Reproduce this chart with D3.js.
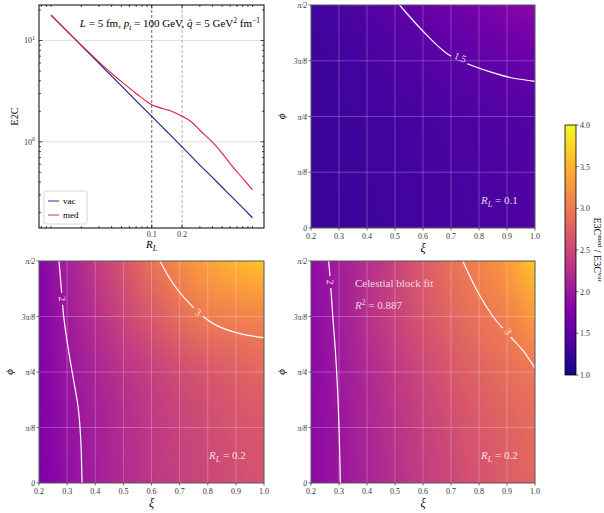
<!DOCTYPE html>
<html>
<head>
<meta charset="utf-8">
<script src="https://cdn.jsdelivr.net/npm/d3@7"></script>
<style>
  body { margin: 0; background: #fff; }
  svg { font-family: "Liberation Serif", "DejaVu Serif", serif; }
</style>
</head>
<body>
<svg id="fig" width="604" height="513"></svg>
<script>
// ---------- data: E2C vs R_L ----------
const rl      = [0.01, 0.015, 0.02, 0.03, 0.04, 0.05, 0.07, 0.1, 0.13, 0.15, 0.2, 0.25, 0.3, 0.4, 0.5, 0.6, 0.8, 1.0];
const e2cVac  = [17.8, 11.9, 8.9, 5.93, 4.45, 3.56, 2.54, 1.78, 1.37, 1.19, 0.89, 0.71, 0.59, 0.445, 0.356, 0.297, 0.223, 0.178];
const e2cMed  = [17.8, 11.9, 9.0, 6.12, 4.72, 3.92, 3.00, 2.32, 2.12, 2.04, 1.79, 1.56, 1.30, 0.99, 0.77, 0.61, 0.435, 0.336];
const rlTicks = [0.1, 0.2];

// ---------- data: E3C ratio maps ----------
const xi = [0.2, 0.3, 0.4, 0.5, 0.6, 0.7, 0.8, 0.9, 1.0];
const phiEighths = [0, 1, 2, 3, 4];            // phi in units of pi/8
const phiLabels = ["0", "π/8", "π/4", "3π/8", "π/2"];
const cbarTicks = [1.0, 1.5, 2.0, 2.5, 3.0, 3.5, 4.0];

// rows: phi = 0 .. pi/2, columns: xi = 0.2 .. 1.0
const ratioRL01 = [
  [1.25, 1.26, 1.28, 1.30, 1.32, 1.34, 1.36, 1.38, 1.40],
  [1.25, 1.27, 1.29, 1.31, 1.33, 1.35, 1.37, 1.39, 1.41],
  [1.26, 1.28, 1.30, 1.33, 1.35, 1.38, 1.40, 1.42, 1.44],
  [1.27, 1.30, 1.34, 1.39, 1.44, 1.48, 1.52, 1.56, 1.60],
  [1.30, 1.35, 1.42, 1.49, 1.57, 1.64, 1.71, 1.78, 1.85]
];
const ratioRL02 = [
  [1.72, 1.91, 2.06, 2.20, 2.32, 2.42, 2.50, 2.57, 2.63],
  [1.74, 1.93, 2.08, 2.22, 2.35, 2.46, 2.55, 2.62, 2.68],
  [1.76, 1.97, 2.13, 2.29, 2.43, 2.56, 2.67, 2.76, 2.84],
  [1.78, 2.02, 2.25, 2.47, 2.68, 2.88, 3.03, 3.08, 3.12],
  [1.80, 2.08, 2.36, 2.64, 2.93, 3.16, 3.35, 3.52, 3.65]
];
const ratioFit = [
  [1.85, 1.99, 2.12, 2.26, 2.39, 2.51, 2.62, 2.72, 2.82],
  [1.85, 1.99, 2.14, 2.29, 2.43, 2.56, 2.68, 2.78, 2.88],
  [1.86, 2.01, 2.18, 2.35, 2.51, 2.66, 2.79, 2.90, 2.99],
  [1.87, 2.04, 2.25, 2.45, 2.63, 2.80, 2.95, 3.08, 3.30],
  [1.88, 2.06, 2.24, 2.45, 2.70, 2.93, 3.10, 3.30, 3.65]
];

// contour lines: [xi, phi/(pi/8)]
const c15RL01 = [[0.516, 4.0], [0.602, 3.52], [0.685, 3.13], [0.756, 2.95], [0.840, 2.80], [0.911, 2.70], [1.0, 2.63]];
const c2RL02  = [[0.271, 4.0], [0.280, 3.47], [0.288, 2.99], [0.303, 2.45], [0.321, 1.91], [0.339, 1.37], [0.348, 0.83], [0.353, 0]];
const c3RL02  = [[0.630, 4.0], [0.677, 3.59], [0.725, 3.29], [0.772, 3.05], [0.831, 2.84], [0.915, 2.69], [1.0, 2.62]];
const c2Fit   = [[0.263, 4.0], [0.269, 3.65], [0.278, 2.99], [0.287, 2.39], [0.295, 1.67], [0.301, 0.83], [0.305, 0]];
const c3Fit   = [[0.742, 4.0], [0.80, 3.40], [0.85, 3.0], [0.90, 2.70], [0.958, 2.38], [1.0, 2.07]];

const svg = d3.select("#fig");
const color = d3.scaleSequential(d3.interpolatePlasma).domain([1, 4]);

// catmull-rom between p1 and p2
function cr(p0, p1, p2, p3, t) {
  return 0.5 * (2 * p1 + (-p0 + p2) * t + (2 * p0 - 5 * p1 + 4 * p2 - p3) * t * t + (-p0 + 3 * p1 - 3 * p2 + p3) * t * t * t);
}
function at(arr, i) {  // linear extension past the ends
  const n = arr.length;
  if (i < 0) return 2 * arr[0] - arr[1];
  if (i >= n) return 2 * arr[n - 1] - arr[n - 2];
  return arr[i];
}

// ================= top-left: E2C =================
{
  const L = 39, R = 264, T = 5, B = 228;
  const x = d3.scaleLog().domain([0.0076, 1.3]).range([L, R]);
  const y = d3.scaleLog().domain([0.141, 22.4]).range([B, T]);
  const g = svg.append("g");

  // grid
  g.selectAll(".hg").data([1, 10]).join("line")
    .attr("x1", L).attr("x2", R).attr("y1", d => y(d)).attr("y2", d => y(d))
    .attr("stroke", "#dcdcdc").attr("stroke-width", 0.8);
  g.selectAll(".vl").data(rlTicks).join("line")
    .attr("x1", d => x(d)).attr("x2", d => x(d)).attr("y1", T).attr("y2", B)
    .attr("stroke", (d, i) => i === 0 ? "#444" : "#999")
    .attr("stroke-width", 0.8).attr("stroke-dasharray", "3,2");

  const line = d3.line().x(d => x(d[0])).y(d => y(d[1])).curve(d3.curveMonotoneX);
  g.append("path").datum(rl.map((r, i) => [r, e2cVac[i]]))
    .attr("d", line).attr("fill", "none").attr("stroke", "#1c1c8a").attr("stroke-width", 1.1);
  g.append("path").datum(rl.map((r, i) => [r, e2cMed[i]]))
    .attr("d", line).attr("fill", "none").attr("stroke", "#e0194b").attr("stroke-width", 1.1);

  // frame and ticks (inward, all sides)
  g.append("rect").attr("x", L).attr("y", T).attr("width", R - L).attr("height", B - T)
    .attr("fill", "none").attr("stroke", "#000").attr("stroke-width", 1);
  const xMinor = [];
  [0.001, 0.01, 0.1, 1].forEach(p => { for (let k = 1; k < 10; k++) xMinor.push(p * k); });
  const xm = xMinor.filter(v => v > 0.0076 && v < 1.3 && !rlTicks.includes(+v.toFixed(4)));
  const yMinor = [];
  [0.1, 1, 10].forEach(p => { for (let k = 2; k < 10; k++) yMinor.push(p * k); });
  const ym = yMinor.filter(v => v > 0.141 && v < 22.4);
  const tk = (vals, len, axis) => {
    vals.forEach(v => {
      if (axis === "x") {
        g.append("line").attr("x1", x(v)).attr("x2", x(v)).attr("y1", B).attr("y2", B - len).attr("stroke", "#000").attr("stroke-width", 0.7);
        g.append("line").attr("x1", x(v)).attr("x2", x(v)).attr("y1", T).attr("y2", T + len).attr("stroke", "#000").attr("stroke-width", 0.7);
      } else {
        g.append("line").attr("y1", y(v)).attr("y2", y(v)).attr("x1", L).attr("x2", L + len).attr("stroke", "#000").attr("stroke-width", 0.7);
        g.append("line").attr("y1", y(v)).attr("y2", y(v)).attr("x1", R).attr("x2", R - len).attr("stroke", "#000").attr("stroke-width", 0.7);
      }
    });
  };
  tk(xm, 2, "x"); tk(rlTicks, 3.5, "x"); tk(ym, 2, "y"); tk([1, 10], 3.5, "y");

  g.selectAll(".xl").data(rlTicks).join("text")
    .attr("x", d => x(d)).attr("y", B + 9).attr("text-anchor", "middle")
    .attr("font-size", 8).attr("fill", "#333").text(d => d);
  [[1, "0"], [10, "1"]].forEach(([v, e]) => {
    const t = g.append("text").attr("x", L - 4).attr("y", y(v) + 3).attr("text-anchor", "end")
      .attr("font-size", 8).attr("fill", "#333");
    t.append("tspan").text("10");
    t.append("tspan").attr("dy", -3.5).attr("font-size", 6).text(e);
  });

  // axis labels
  const xl = g.append("text").attr("x", (L + R) / 2).attr("y", 248).attr("text-anchor", "middle").attr("font-size", 11);
  xl.append("tspan").attr("font-style", "italic").text("R");
  xl.append("tspan").attr("dy", 2.5).attr("font-size", 8).attr("font-style", "italic").text("L");
  g.append("text").attr("transform", `translate(18,${(T + B) / 2}) rotate(-90)`)
    .attr("text-anchor", "middle").attr("font-size", 10).text("E2C");

  // title inside
  const tt = g.append("text").attr("x", 260).attr("y", 27).attr("text-anchor", "end").attr("font-size", 11);
  tt.append("tspan").attr("font-style", "italic").text("L");
  tt.append("tspan").text(" = 5 fm,  ");
  tt.append("tspan").attr("font-style", "italic").text("p");
  tt.append("tspan").attr("dy", 2.5).attr("font-size", 7.5).attr("font-style", "italic").text("t");
  tt.append("tspan").attr("dy", -2.5).text(" = 100 GeV,  ");
  tt.append("tspan").attr("font-style", "italic").text("q̂");
  tt.append("tspan").text(" = 5 GeV");
  tt.append("tspan").attr("dy", -4).attr("font-size", 7.5).text("2");
  tt.append("tspan").attr("dy", 4).text(" fm");
  tt.append("tspan").attr("dy", -4).attr("font-size", 7.5).text("−1");

  // legend
  const lg = g.append("g");
  lg.append("rect").attr("x", 44).attr("y", 191).attr("width", 43).attr("height", 33).attr("rx", 2)
    .attr("fill", "#fff").attr("fill-opacity", 0.85).attr("stroke", "#ccc").attr("stroke-width", 0.8);
  [["vac", "#1c1c8a", 201], ["med", "#e0194b", 215]].forEach(([n, c, yy]) => {
    lg.append("line").attr("x1", 48).attr("x2", 59).attr("y1", yy).attr("y2", yy)
      .attr("stroke", c).attr("stroke-opacity", 0.7).attr("stroke-width", 1.3);
    lg.append("text").attr("x", 63).attr("y", yy + 3).attr("font-size", 9).text(n);
  });
}

// ================= heat maps =================
function heatPanel(opt) {
  const { L, R, T, B, grid, contours, labels, id } = opt;
  const x = d3.scaleLinear().domain([0.2, 1.0]).range([L, R]);
  const y = d3.scaleLinear().domain([0, 4]).range([B, T]);
  const xi2i = d3.scaleLinear().domain(xi).range(d3.range(xi.length)).clamp(true);
  const g = svg.append("g");

  // image from the grid (bicubic between read values)
  const w = Math.round(R - L), h = Math.round(B - T);
  const cv = document.createElement("canvas");
  cv.width = w; cv.height = h;
  const ctx = cv.getContext("2d");
  const img = ctx.createImageData(w, h);
  const rowAt = j => {
    if (j < 0) return grid[0].map((v, i) => 2 * v - grid[1][i]);
    if (j > 4) return grid[4].map((v, i) => 2 * v - grid[3][i]);
    return grid[j];
  };
  for (let py = 0; py < h; py++) {
    const pv = Math.max(0, Math.min(4, y.invert(T + py + 0.5)));
    const j0 = Math.min(3, Math.floor(pv)), fj = pv - j0;
    for (let px = 0; px < w; px++) {
      const fi0 = xi2i(x.invert(L + px + 0.5));
      const i0 = Math.min(7, Math.floor(fi0)), fi = fi0 - i0;
      const col = [-1, 0, 1, 2].map(dj => {
        const row = rowAt(j0 + dj);
        return cr(at(row, i0 - 1), at(row, i0), at(row, i0 + 1), at(row, i0 + 2), fi);
      });
      const v = cr(col[0], col[1], col[2], col[3], fj);
      const c = d3.rgb(color(v));
      const k = (py * w + px) * 4;
      img.data[k] = c.r; img.data[k + 1] = c.g; img.data[k + 2] = c.b; img.data[k + 3] = 255;
    }
  }
  ctx.putImageData(img, 0, 0);
  g.append("image").attr("x", L).attr("y", T).attr("width", R - L).attr("height", B - T)
    .attr("preserveAspectRatio", "none").attr("href", cv.toDataURL());

  // grid lines
  g.selectAll(".gx").data(xi).join("line")
    .attr("x1", d => x(d)).attr("x2", d => x(d)).attr("y1", T).attr("y2", B)
    .attr("stroke", "#fff").attr("stroke-opacity", 0.3).attr("stroke-width", 0.8);
  g.selectAll(".gy").data(phiEighths).join("line")
    .attr("y1", d => y(d)).attr("y2", d => y(d)).attr("x1", L).attr("x2", R)
    .attr("stroke", "#fff").attr("stroke-opacity", 0.3).attr("stroke-width", 0.8);

  // contours with gaps for labels
  const mask = svg.append("defs").append("mask").attr("id", id)
    .attr("maskUnits", "userSpaceOnUse").attr("x", 0).attr("y", 0).attr("width", 604).attr("height", 513);
  mask.append("rect").attr("width", 604).attr("height", 513).attr("fill", "#fff");
  labels.forEach(lb => {
    mask.append("rect").attr("x", -lb.half).attr("y", -6).attr("width", 2 * lb.half).attr("height", 12)
      .attr("fill", "#000").attr("transform", `translate(${x(lb.p[0])},${y(lb.p[1])}) rotate(${lb.rot})`);
  });
  const line = d3.line().x(d => x(d[0])).y(d => y(d[1])).curve(d3.curveCatmullRom);
  const cg = g.append("g").attr("mask", `url(#${id})`);
  contours.forEach(c => {
    cg.append("path").datum(c).attr("d", line).attr("fill", "none")
      .attr("stroke", "#fff").attr("stroke-width", 1.2);
  });
  labels.forEach(lb => {
    g.append("text").attr("transform", `translate(${x(lb.p[0])},${y(lb.p[1])}) rotate(${lb.rot})`)
      .attr("text-anchor", "middle").attr("dy", "0.35em").attr("font-size", 10)
      .attr("fill", "#fff").attr("fill-opacity", 0.9).text(lb.t);
  });

  // frame, ticks, labels
  g.append("rect").attr("x", L).attr("y", T).attr("width", R - L).attr("height", B - T)
    .attr("fill", "none").attr("stroke", "#444").attr("stroke-width", 0.9);
  g.selectAll(".tx").data(xi).join("line")
    .attr("x1", d => x(d)).attr("x2", d => x(d)).attr("y1", B).attr("y2", B + 2.5).attr("stroke", "#333").attr("stroke-width", 0.7);
  g.selectAll(".ty").data(phiEighths).join("line")
    .attr("y1", d => y(d)).attr("y2", d => y(d)).attr("x1", L).attr("x2", L - 2.5).attr("stroke", "#333").attr("stroke-width", 0.7);
  g.selectAll(".lx").data(xi).join("text")
    .attr("x", d => x(d)).attr("y", B + 11).attr("text-anchor", "middle")
    .attr("font-size", 8).attr("fill", "#333").text(d => d.toFixed(1));
  g.selectAll(".ly").data(phiEighths).join("text")
    .attr("x", L - 4).attr("y", d => y(d) + 3).attr("text-anchor", "end")
    .attr("font-size", 7.5).attr("font-style", "italic").attr("fill", "#333").text((d, i) => phiLabels[i]);
  g.append("text").attr("x", (L + R) / 2).attr("y", B + 24).attr("text-anchor", "middle")
    .attr("font-size", 12).attr("font-style", "italic").text("ξ");
  g.append("text").attr("transform", `translate(${L - 26},${(T + B) / 2}) rotate(-90)`)
    .attr("text-anchor", "middle").attr("font-size", 11).attr("font-style", "italic").text("ϕ");

  // R_L annotation
  const a = g.append("text").attr("x", L + 170).attr("y", B - 24)
    .attr("font-size", 11).attr("fill", "#fff").attr("fill-opacity", 0.85);
  a.append("tspan").attr("font-style", "italic").text("R");
  a.append("tspan").attr("dy", 2.5).attr("font-size", 8).attr("font-style", "italic").text("L");
  a.append("tspan").attr("dy", -2.5).text(" = " + opt.rl);
  return { g, x, y };
}

heatPanel({
  id: "m1", L: 311, R: 535, T: 5, B: 228, grid: ratioRL01, rl: "0.1",
  contours: [c15RL01],
  labels: [{ t: "1.5", p: [0.733, 3.06], rot: 22, half: 9 }]
});
heatPanel({
  id: "m2", L: 39, R: 264, T: 261, B: 483, grid: ratioRL02, rl: "0.2",
  contours: [c2RL02, c3RL02],
  labels: [{ t: "2", p: [0.283, 3.32], rot: 86, half: 6 }, { t: "3", p: [0.766, 3.08], rot: 33, half: 6 }]
});
const fit = heatPanel({
  id: "m3", L: 311, R: 535, T: 261, B: 483, grid: ratioFit, rl: "0.2",
  contours: [c2Fit, c3Fit],
  labels: [{ t: "2", p: [0.269, 3.62], rot: 87, half: 6 }, { t: "3", p: [0.905, 2.73], rot: 55, half: 6 }]
});
fit.g.append("text").attr("x", 355).attr("y", 287).attr("font-size", 11)
  .attr("fill", "#fff").attr("fill-opacity", 0.8).text("Celestial block fit");
const r2 = fit.g.append("text").attr("x", 355).attr("y", 309).attr("font-size", 11)
  .attr("fill", "#fff").attr("fill-opacity", 0.8);
r2.append("tspan").attr("font-style", "italic").text("R");
r2.append("tspan").attr("dy", -4).attr("font-size", 7.5).text("2");
r2.append("tspan").attr("dy", 4).text(" = 0.887");

// ================= colorbar =================
{
  const L = 565, R = 576, T = 125, B = 375;
  const cy = d3.scaleLinear().domain([1, 4]).range([B, T]);
  const grad = svg.append("defs").append("linearGradient").attr("id", "cb")
    .attr("x1", 0).attr("y1", 1).attr("x2", 0).attr("y2", 0);
  d3.range(0, 1.0001, 0.05).forEach(t => {
    grad.append("stop").attr("offset", t).attr("stop-color", color(1 + 3 * t));
  });
  svg.append("rect").attr("x", L).attr("y", T).attr("width", R - L).attr("height", B - T)
    .attr("fill", "url(#cb)").attr("stroke", "#000").attr("stroke-width", 0.8);
  svg.selectAll(".ct").data(cbarTicks).join("line")
    .attr("x1", R).attr("x2", R + 2.5).attr("y1", d => cy(d)).attr("y2", d => cy(d))
    .attr("stroke", "#333").attr("stroke-width", 0.7);
  svg.selectAll(".cl").data(cbarTicks).join("text")
    .attr("x", R + 4).attr("y", d => cy(d) + 3).attr("font-size", 8).attr("fill", "#333")
    .text(d => d.toFixed(1));
  const cl = svg.append("text").attr("transform", `translate(594,${(T + B) / 2}) rotate(90)`)
    .attr("text-anchor", "middle").attr("font-size", 10);
  cl.append("tspan").text("E3C");
  cl.append("tspan").attr("dy", -3.5).attr("font-size", 7).text("med");
  cl.append("tspan").attr("dy", 3.5).text(" / E3C");
  cl.append("tspan").attr("dy", -3.5).attr("font-size", 7).text("vac");
}
</script>
</body>
</html>
